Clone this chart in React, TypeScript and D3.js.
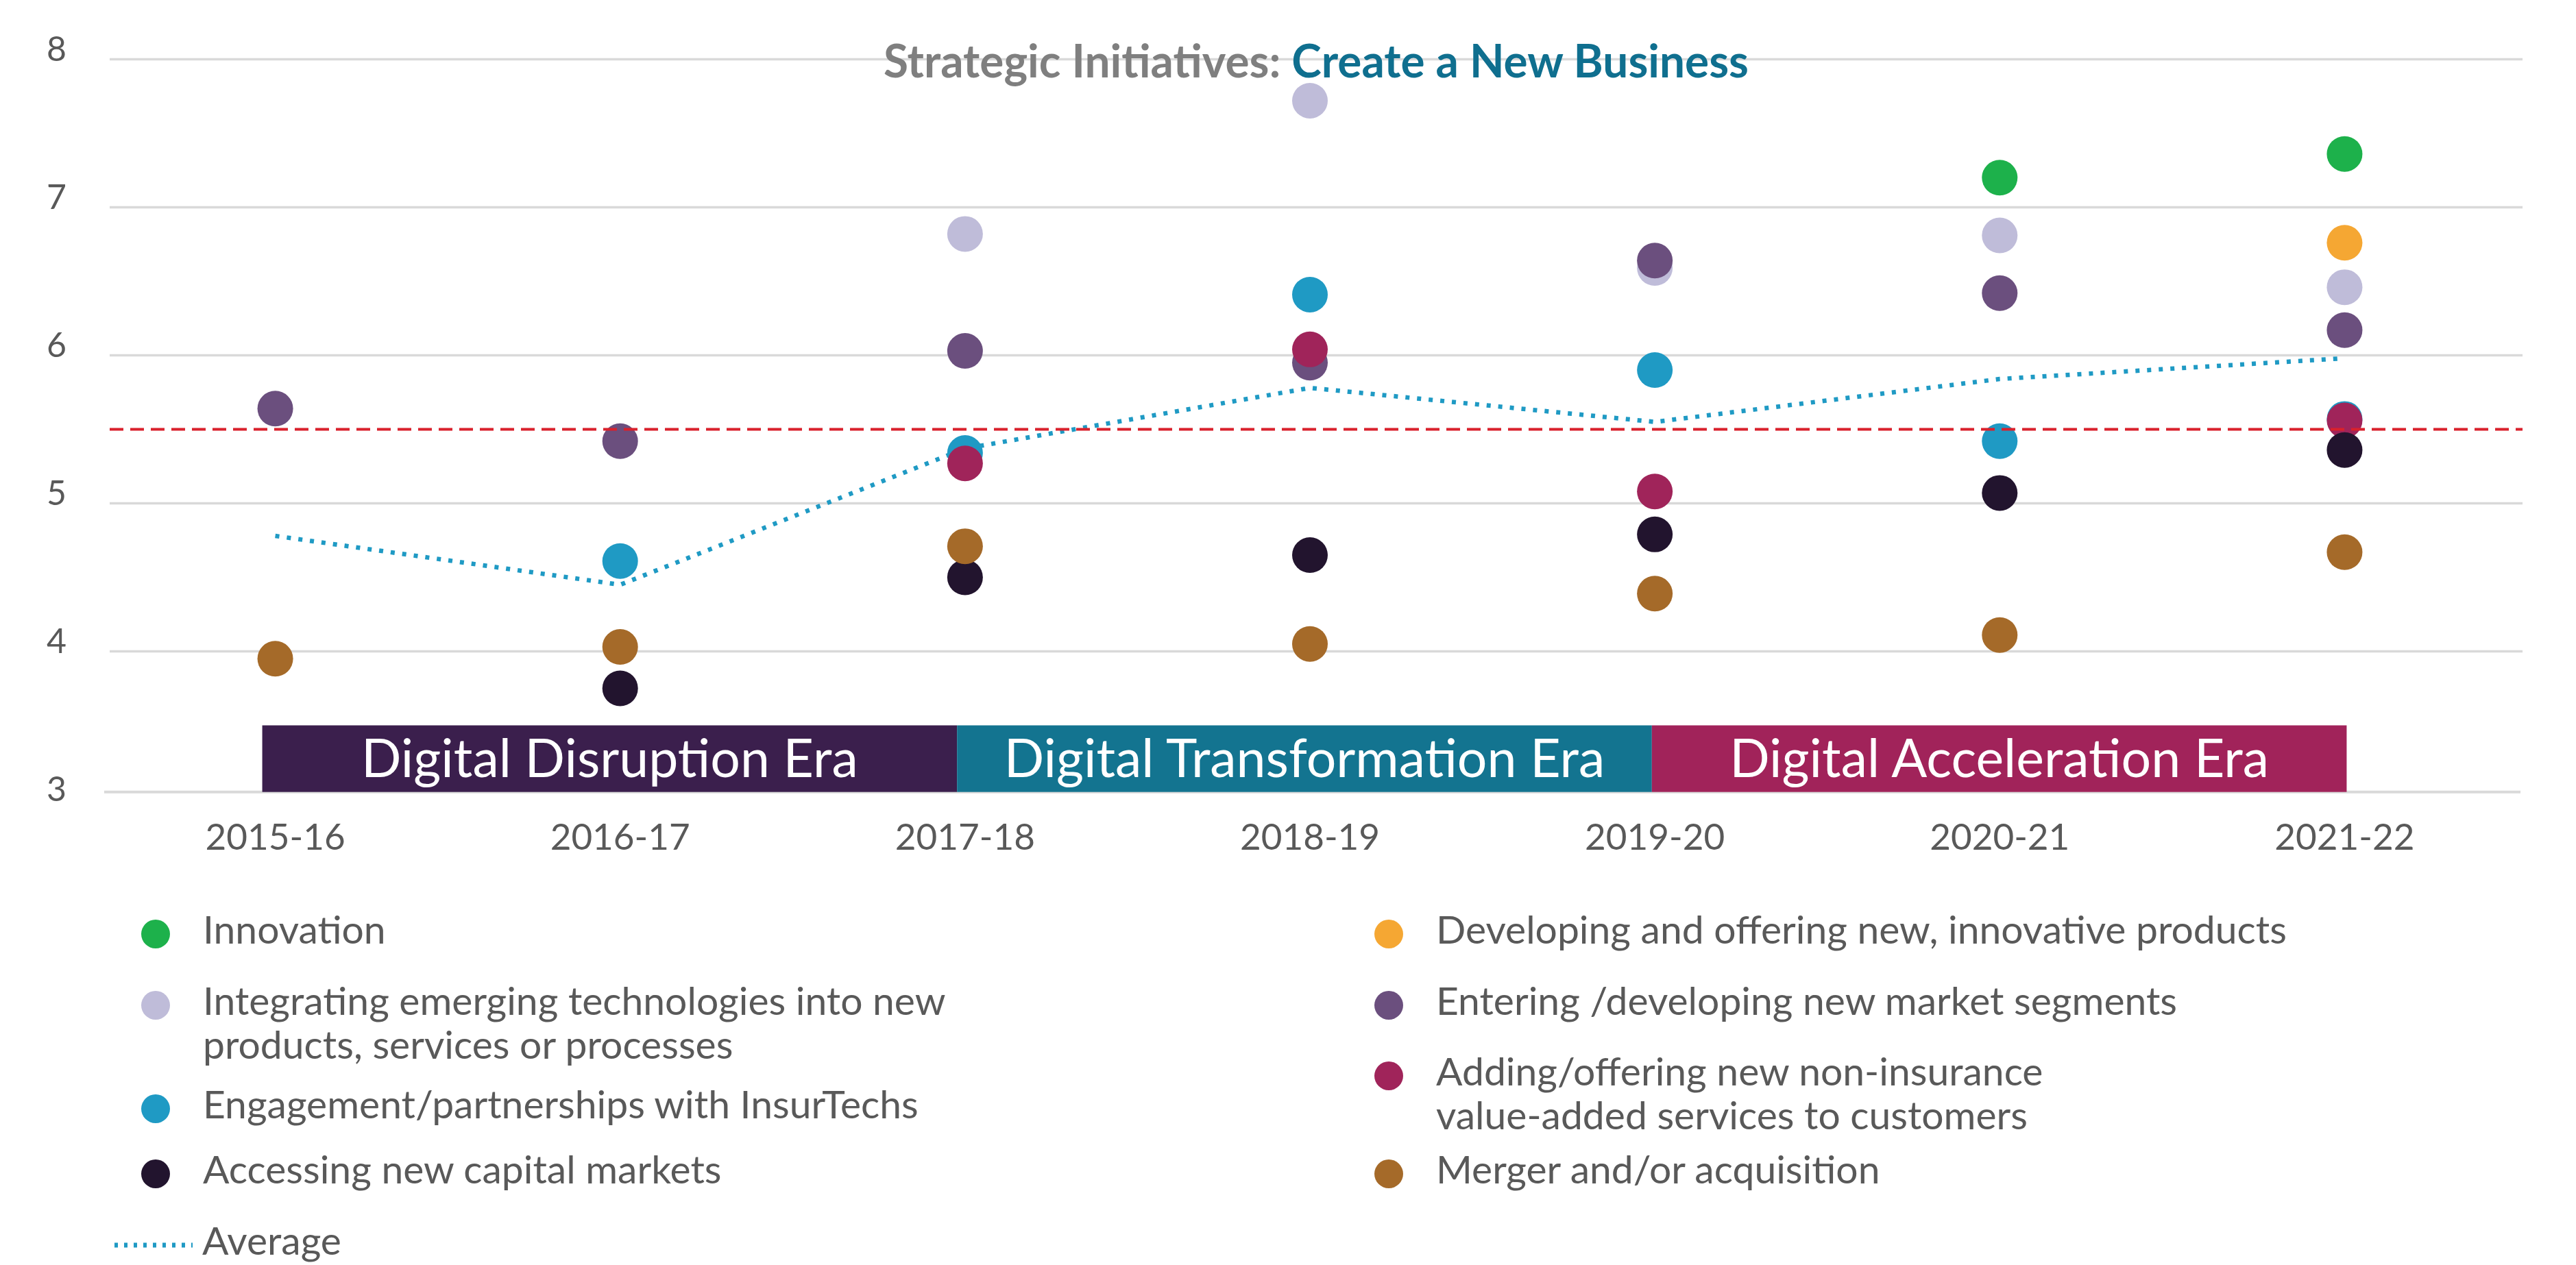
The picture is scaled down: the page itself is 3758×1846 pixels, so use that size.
import * as d3 from "d3";

// categories & values
const categories = ["2015-16", "2016-17", "2017-18", "2018-19", "2019-20", "2020-21", "2021-22"];
const yTicks = [3, 4, 5, 6, 7, 8];

const innovation = [null, null, null, null, null, 7.2, 7.36];
const developing = [null, null, null, null, null, null, 6.76];
const integrating = [null, null, 6.82, 7.72, 6.59, 6.81, 6.46];
const entering = [5.64, 5.42, 6.03, 5.95, 6.64, 6.42, 6.17];
const engagement = [null, 4.61, 5.34, 6.41, 5.9, 5.42, 5.57];
const adding = [null, null, 5.27, 6.04, 5.08, null, 5.56];
const accessing = [null, 3.75, 4.5, 4.65, 4.79, 5.07, 5.36];
const merger = [3.95, 4.03, 4.71, 4.05, 4.39, 4.11, 4.67];
const average = [4.78, 4.45, 5.37, 5.78, 5.55, 5.84, 5.98];

const threshold = 5.5;
const axisBase = 3.05;
const eraTop = 3.5;

const eraNames = ["Digital Disruption Era", "Digital Transformation Era", "Digital Acceleration Era"];
const eraStart = [0, 2, 4]; // category index
const eraEnd = [2, 4, 6];
const eraColors = ["#3b1f4d", "#137490", "#a1235a"];

type Series = { name: string[]; values: (number | null)[]; color: string };

// draw order (later on top)
const series: Series[] = [
  { name: ["Innovation"], values: innovation, color: "#1db14b" },
  { name: ["Developing and offering new, innovative products"], values: developing, color: "#f5a733" },
  { name: ["Integrating emerging technologies into new", "products, services or processes"], values: integrating, color: "#bfbcd9" },
  { name: ["Entering /developing new market segments"], values: entering, color: "#6b4f7e" },
  { name: ["Engagement/partnerships with InsurTechs"], values: engagement, color: "#1f9ac4" },
  { name: ["Adding/offering new non-insurance", "value-added services to customers"], values: adding, color: "#a0245a" },
  { name: ["Accessing new capital markets"], values: accessing, color: "#22142e" },
  { name: ["Merger and/or acquisition"], values: merger, color: "#a56a29" },
];

const leftLegend = ["Innovation", "Integrating emerging technologies into new", "Engagement/partnerships with InsurTechs", "Accessing new capital markets"];
const rightLegend = ["Developing and offering new, innovative products", "Entering /developing new market segments", "Adding/offering new non-insurance", "Merger and/or acquisition"];

const W = 3758;
const H = 1846;
const FONT = "Lato, 'Open Sans', sans-serif";
const TEXT = "#595959";
const GRID = "#d9d9d9";
const AVG = "#1f9ac4";

export default function App() {
  const x = d3.scalePoint<string>().domain(categories).range([150, 3672]).padding(0.5);
  const y = d3.scaleLinear().domain([3, 8]).range([1166.5, 86.5]);

  // era bands sit on a slightly wider index scale than the points
  const xEra = d3
    .scaleLinear()
    .domain([0, categories.length - 1])
    .range([(x(categories[0]) as number) - 19, (x(categories[categories.length - 1]) as number) + 3]);

  const avgLine = d3
    .line<number>()
    .x((_, i) => x(categories[i]) as number)
    .y((d) => y(d));

  const leftRowsY = [1363, 1467, 1618, 1713];
  const rightRowsY = [1363, 1467, 1570, 1713];

  const legendItem = (s: Series, lx: number, ly: number) => (
    <g key={s.name[0]}>
      <circle cx={lx} cy={ly} r={21} fill={s.color} />
      <text x={lx + 69} y={ly + 14} fontSize={57} fill={TEXT} fontFamily={FONT}>
        {s.name.map((t, k) => (
          <tspan key={k} x={lx + 69} dy={k === 0 ? 0 : 64}>
            {t}
          </tspan>
        ))}
      </text>
    </g>
  );

  return (
    <div>
      <style>{`body{margin:0}`}</style>
      <svg width={W} height={H} style={{ display: "block", background: "#fff" }}>
        {/* gridlines */}
        {yTicks
          .filter((t) => t > 3)
          .map((t) => (
            <line key={t} x1={160} x2={3680} y1={y(t)} y2={y(t)} stroke={GRID} strokeWidth={3.5} />
          ))}
        <line x1={152} x2={3677} y1={y(axisBase)} y2={y(axisBase)} stroke={GRID} strokeWidth={4} />

        {/* y tick labels */}
        {yTicks.map((t) => (
          <text key={t} x={97} y={y(t) + 2} textAnchor="end" fontSize={50} fill={TEXT} fontFamily={FONT}>
            {t}
          </text>
        ))}

        {/* x tick labels */}
        {categories.map((c) => (
          <text key={c} x={x(c)} y={1240} textAnchor="middle" fontSize={53} fill={TEXT} fontFamily={FONT}>
            {c}
          </text>
        ))}

        {/* era bands */}
        {eraNames.map((n, i) => {
          const x0 = xEra(eraStart[i]);
          const x1 = xEra(eraEnd[i]);
          return (
            <g key={n}>
              <rect x={x0} y={y(eraTop)} width={x1 - x0} height={y(axisBase) - y(eraTop)} fill={eraColors[i]} />
              <text
                x={(x0 + x1) / 2}
                y={(y(eraTop) + y(axisBase)) / 2 + 27}
                textAnchor="middle"
                fontSize={77}
                fill="#fff"
                fontFamily={FONT}
              >
                {n}
              </text>
            </g>
          );
        })}

        {/* title */}
        <text
          x={(160 + 3680) / 2}
          y={113}
          textAnchor="middle"
          fontSize={66}
          fontWeight="bold"
          fontFamily={FONT}
          textLength={1262}
          lengthAdjust="spacingAndGlyphs"
        >
          <tspan fill="#7f7f7f">Strategic Initiatives: </tspan>
          <tspan fill="#0f6f8f">Create a New Business</tspan>
        </text>

        {/* average dotted line */}
        <path d={avgLine(average) || ""} fill="none" stroke={AVG} strokeWidth={6.5} strokeDasharray="6 11" />

        {/* points */}
        {series.map((s) =>
          s.values.map((v, i) =>
            v == null ? null : <circle key={s.name[0] + i} cx={x(categories[i])} cy={y(v)} r={26} fill={s.color} />
          )
        )}

        {/* threshold */}
        <line x1={160} x2={3680} y1={y(threshold)} y2={y(threshold)} stroke="#d9212c" strokeWidth={4} strokeDasharray="20 10" />

        {/* legend */}
        {leftLegend.map((n, i) => legendItem(series.find((s) => s.name[0] === n)!, 227, leftRowsY[i]))}
        {rightLegend.map((n, i) => legendItem(series.find((s) => s.name[0] === n)!, 2026, rightRowsY[i]))}
        <line x1={167} x2={281} y1={1817} y2={1817} stroke={AVG} strokeWidth={7} strokeDasharray="5 9" />
        <text x={295} y={1831} fontSize={57} fill={TEXT} fontFamily={FONT}>
          Average
        </text>
      </svg>
    </div>
  );
}
